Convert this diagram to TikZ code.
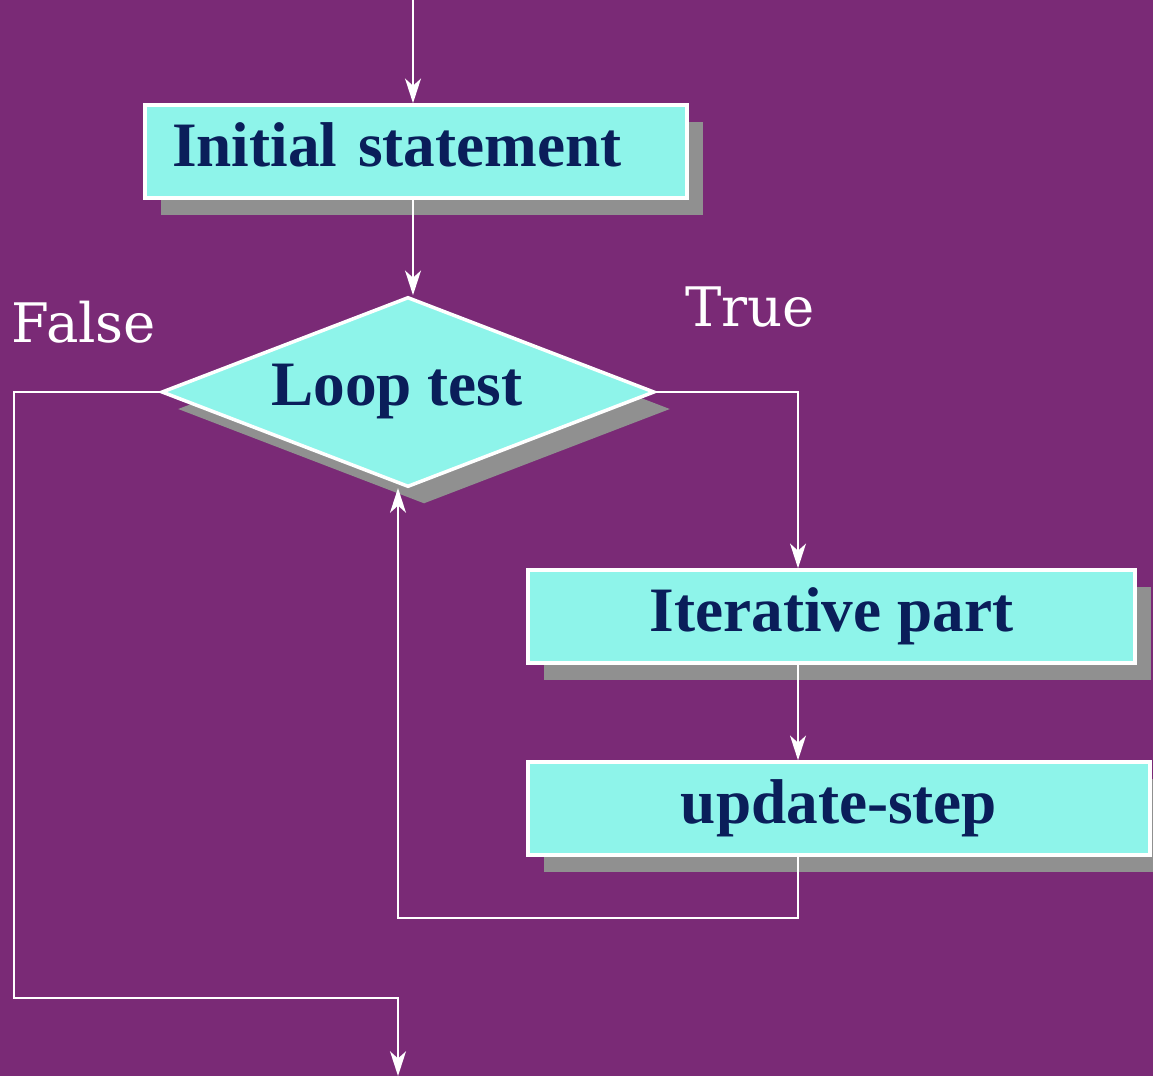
\documentclass[tikz,border=0pt]{standalone}
\usepackage{fontspec}
\usetikzlibrary{arrows.meta,shapes.geometric,shadows}
\newfontfamily\stepfont{Liberation Serif}
\newfontfamily\branchfont{DejaVu Serif}
\definecolor{bgpurple}{RGB}{122,42,118}
\definecolor{boxcyan}{RGB}{142,244,234}
\definecolor{textnavy}{RGB}{10,30,90}
\definecolor{shadowgray}{RGB}{144,144,144}
\begin{document}
\begin{tikzpicture}[
    stepbox/.style={draw=white,line width=1pt,fill=boxcyan,text=textnavy,
        font=\stepfont\bfseries\fontsize{18}{21}\selectfont,
        minimum height=0.93cm,
        drop shadow={shadow xshift=0.16cm,shadow yshift=-0.17cm,fill=shadowgray,opacity=1}},
    testbox/.style={stepbox,diamond,inner sep=0pt,shape aspect=2.6,
        minimum width=4.93cm,minimum height=1.9cm},
    arr/.style={draw=white,line width=0.7pt,-{Stealth[length=7pt,width=4.5pt,inset=2pt]}},
    branch/.style={text=white,font=\branchfont\fontsize{15.5}{18}\selectfont}
  ]
            \fill[bgpurple] (0,0) rectangle (11.53,-10.76);
            \useasboundingbox (0,0) rectangle (11.53,-10.76);
            % boxes
            \node (init) at (4.16,-1.515)[stepbox,text width=4.88cm,text depth=4pt,inner xsep=0.27cm,align=left]{Initial statement};
            \node (loop) at (4.08,-3.92)[testbox]{\hspace*{-0.22cm}Loop test};
            \node (iter) at (8.315,-6.165)[stepbox,minimum width=6.07cm]{Iterative part};
            \node (update) at (8.39,-8.085)[stepbox,minimum width=6.22cm]{update-step};
            \node (false) at (0.84,-3.22)[branch]{False};
            \node (true) at (7.50,-3.07)[branch]{True};
            % turning points
            \coordinate (start) at (4.13,0);
            \coordinate (rcol) at (7.98,-3.91);
            \coordinate (back) at (3.98,-9.18);
            \coordinate (fturn) at (0.14,-9.98);
            \coordinate (exit) at (3.98,-10.76);
            % connectors
            \draw[arr] (start) -- (start |- init.north);
            \draw[arr] (init.south -| start) -- (start |- loop.north);
            \draw[arr] (loop.east) -| (iter.north -| rcol);
            \draw[arr] (iter.south -| rcol) -- (update.north -| rcol);
            \draw[arr] (update.south -| rcol) |- (back) -- (3.98,-4.88);
            \draw[arr] (loop.west) -| (fturn) -| (exit);
        \end{tikzpicture}
\end{document}
